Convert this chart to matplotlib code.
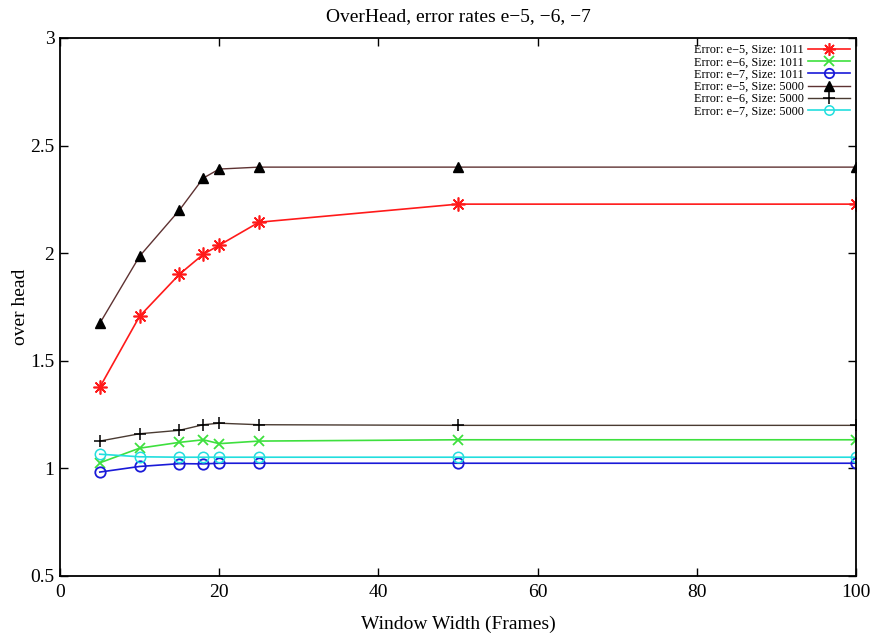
import matplotlib
matplotlib.use('Agg')
import matplotlib.pyplot as plt

# window widths (frames) used in every run
window = [5, 10, 15, 18, 20, 25, 50, 100]

# overhead per run
e5_1011 = [1.377, 1.707, 1.902, 1.995, 2.037, 2.144, 2.228, 2.228]
e6_1011 = [1.026, 1.094, 1.121, 1.133, 1.115, 1.127, 1.133, 1.133]
e7_1011 = [0.983, 1.009, 1.022, 1.021, 1.024, 1.024, 1.024, 1.024]
e5_5000 = [1.674, 1.986, 2.200, 2.349, 2.391, 2.400, 2.400, 2.400]
e6_5000 = [1.127, 1.161, 1.177, 1.203, 1.210, 1.203, 1.200, 1.200]
e7_5000 = [1.066, 1.054, 1.052, 1.052, 1.052, 1.052, 1.052, 1.052]

labels = ['Error: e\u22125, Size: 1011', 'Error: e\u22126, Size: 1011',
          'Error: e\u22127, Size: 1011', 'Error: e\u22125, Size: 5000',
          'Error: e\u22126, Size: 5000', 'Error: e\u22127, Size: 5000']

plt.rcParams['font.family'] = ['Liberation Serif', 'DejaVu Serif']

fig = plt.figure(figsize=(8.72, 6.35), dpi=100)
ax = fig.add_axes([60 / 872, 1 - 576 / 635, 796 / 872, 538 / 635])

ax.plot(window, e5_1011, color='#ff1a1a', lw=1.2, marker=(8, 2, 0), ms=10,
        mec='#ff1a1a', mew=1.2, label=labels[0])
ax.plot(window, e6_1011, color='#3ee03e', lw=1.2, marker='x', ms=7.5,
        mew=1.3, label=labels[1])
ax.plot(window, e7_1011, color='#1a1ad8', lw=1.2, marker='o', ms=7.5,
        mfc='none', mew=1.3, label=labels[2])
ax.plot(window, e5_5000, color='#5e3232', lw=1.0, marker='^', ms=7.5,
        mfc='black', mec='black', label=labels[3])
ax.plot(window, e6_5000, color='#4a3b32', lw=1.0, marker='+', ms=9,
        mec='black', mew=1.1, label=labels[4])
ax.plot(window, e7_5000, color='#22dede', lw=1.2, marker='o', ms=7.5,
        mfc='none', mew=1.1, label=labels[5])

ax.set_xlim(0, 100)
ax.set_ylim(0.5, 3)
ax.set_xticks([0, 20, 40, 60, 80, 100])
ax.set_yticks([0.5, 1, 1.5, 2, 2.5, 3])
ax.set_yticklabels(['0.5', '1', '1.5', '2', '2.5', '3'])
ax.tick_params(direction='in', top=True, right=True, length=6, width=1,
               labelsize=14)
ax.tick_params(axis='x', pad=6)
ax.tick_params(axis='y', pad=4)
for s in ax.spines.values():
    s.set_linewidth(1.3)

ax.set_title('OverHead, error rates e\u22125, \u22126, \u22127', fontsize=14, pad=12)
ax.set_xlabel('Window Width (Frames)', fontsize=14, labelpad=10)
ax.set_ylabel('over head', fontsize=14, labelpad=1)

leg = ax.legend(loc='upper right', frameon=False, markerfirst=False,
                fontsize=8.8, handlelength=3.4, labelspacing=0.02,
                borderaxespad=0.1, handletextpad=0.4,
                bbox_to_anchor=(1.0, 1.0))
for h in leg.legend_handles:
    h.set_markersize(h.get_markersize() * 0.9)

fig.savefig('out.png', dpi=100)
